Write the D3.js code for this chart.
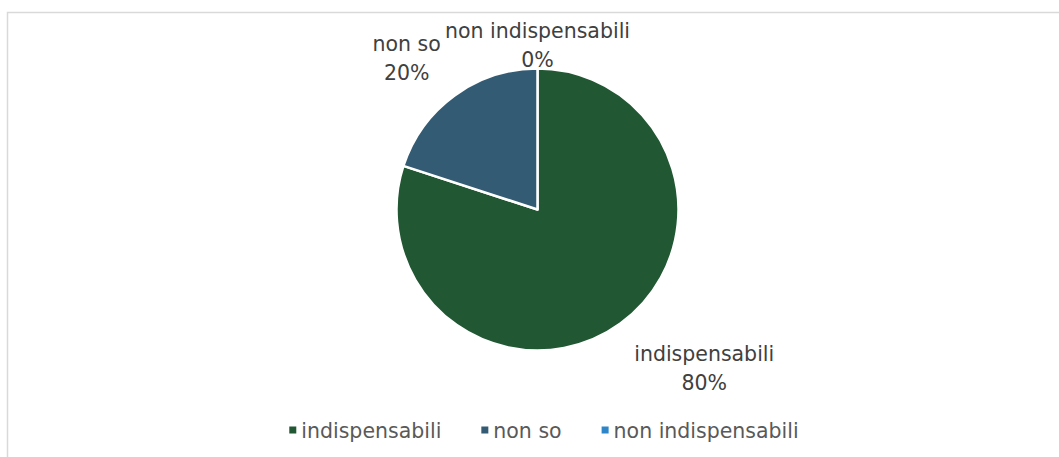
<!DOCTYPE html>
<html>
<head>
<meta charset="utf-8">
<script src="https://cdn.jsdelivr.net/npm/d3@7"></script>
<style>
html,body{margin:0;padding:0;background:#fff;}
svg{display:block;}
</style>
</head>
<body>
<svg id="chart" width="1059" height="457"></svg>
<script>
const categories = ["indispensabili", "non so", "non indispensabili"];
const values = [80, 20, 0];
const labelsPct = ["80%", "20%", "0%"];
const colors = ["#215733", "#335B74", "#2E86C8"];

const W = 1059, H = 457;
const svg = d3.select("#chart");
const FONT = "'DejaVu Sans', sans-serif";

// chart area border
svg.append("rect")
  .attr("x", 7.5).attr("y", 12.5)
  .attr("width", 1060).attr("height", 460)
  .attr("fill", "#fff").attr("stroke", "#d9d9d9").attr("stroke-width", 1.5);

const cx = 537.5, cy = 209.5, r = 141;
const data = categories.map((c, i) => ({cat: c, value: values[i], pct: labelsPct[i], color: colors[i]}));

const pie = d3.pie().sort(null).value(d => d.value);
const arcs = pie(data);
const arc = d3.arc().innerRadius(0).outerRadius(r);

const g = svg.append("g").attr("transform", `translate(${cx},${cy})`);
g.selectAll("path.slice")
  .data(arcs.filter(a => a.data.value > 0))
  .join("path")
  .attr("class", "slice")
  .attr("d", arc)
  .attr("fill", d => d.data.color)
  .attr("stroke", "#fff")
  .attr("stroke-width", 2.5)
  .attr("stroke-linejoin", "round");

// data labels
const fs = 20.5, lh = 29;
arcs.forEach(a => {
  const mid = (a.startAngle + a.endAngle) / 2;
  const off = a.data.value > 0 ? 15 : -6;
  const px = Math.sin(mid) * (r + off);
  const py = -Math.cos(mid) * (r + off);
  const t = g.append("text")
    .attr("font-family", FONT).attr("font-size", fs)
    .attr("fill", "#404040").attr("text-anchor", "middle");
  const l1 = t.append("tspan").text(a.data.cat);
  const l2 = t.append("tspan").text(a.data.pct);
  const w = Math.max(l1.node().getComputedTextLength(), l2.node().getComputedTextLength());
  const h = lh * 2;
  const s = Math.sin(mid), c = -Math.cos(mid);
  let bx = Math.abs(s) < 0.1 ? px : (s > 0 ? px + w / 2 + 5 : px - w / 2 - 5);
  let top = Math.abs(c) < 0.1 ? py - h / 2 : (c > 0 ? py : py - h);
  const dy = a.data.value > 0 ? 4 : 0;
  l1.attr("x", bx).attr("y", top + lh * 0.75 + dy);
  l2.attr("x", bx).attr("y", top + lh * 1.75 + dy);
});

// legend
const leg = svg.append("g").attr("transform", `translate(0, 430)`);
const items = leg.selectAll("g.item").data(data).join("g").attr("class", "item");
items.append("rect").attr("width", 7).attr("height", 7).attr("y", -3.5)
  .attr("fill", d => d.color);
items.append("text").attr("x", 12).attr("y", 7.5)
  .attr("font-family", FONT).attr("font-size", fs).attr("fill", "#595959")
  .text(d => d.cat);
let widths = [];
items.each(function() { widths.push(this.getBBox().width); });
const gap = 40;
const total = d3.sum(widths) + gap * (widths.length - 1);
let x0 = 544 - total / 2;
items.attr("transform", (d, i) => {
  const x = x0; x0 += widths[i] + gap; return `translate(${x},0)`;
});
</script>
</body>
</html>
